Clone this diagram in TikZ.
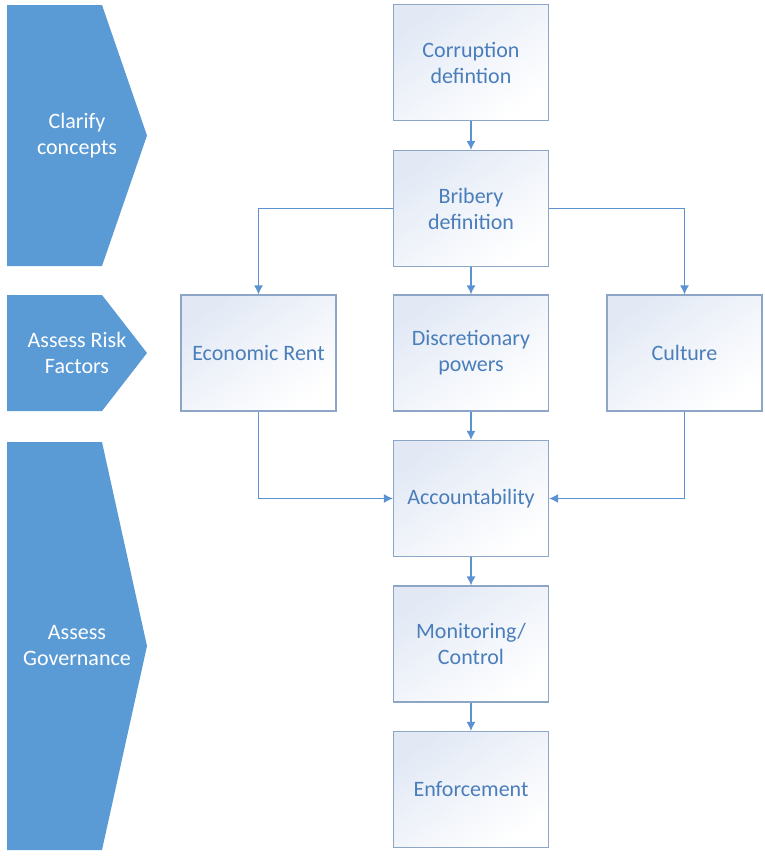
\documentclass[tikz,border=0pt]{standalone}
\usepackage{fontspec}
\setmainfont{Carlito}
\usepackage{tikz}
\usetikzlibrary{shapes,arrows,arrows.meta}
\definecolor{stageblue}{HTML}{5B9BD5}
\definecolor{boxline}{HTML}{8DA6C6}
\definecolor{boxtext}{HTML}{4A7EBB}
\definecolor{boxshade}{HTML}{E2E9F5}
\definecolor{arrowblue}{HTML}{5B93D2}
\tikzstyle{line} = [draw=arrowblue, line width=1.2pt, -{Latex[length=9pt,width=9pt]}]
\tikzstyle{stage} = [fill=stageblue]
\tikzstyle{stagetext} = [text=white, align=center, font=\fontsize{22}{26}\selectfont]
\tikzstyle{block} = [rectangle, draw=boxline, line width=1.2pt, minimum width=155pt, minimum height=116pt,
  shading=axis, top color=boxshade, middle color=white, bottom color=white, shading angle=35,
  text=boxtext, align=center, font=\fontsize{22}{26}\selectfont]

\begin{document}
\begin{tikzpicture}[x=1pt, y=-1pt]

	\useasboundingbox (0,0) rectangle (765,860);

	% stages
	\fill[stage] (7,5) -- (102,5) -- (147,135.5) -- (102,266) -- (7,266) -- cycle;
	\fill[stage] (7,295) -- (102,295) -- (147,353) -- (102,411) -- (7,411) -- cycle;
	\fill[stage] (7,442) -- (102,442) -- (147,646) -- (102,850) -- (7,850) -- cycle;
	\node[stagetext] (clarify) at (77, 135.5) {Clarify\\concepts};
	\node[stagetext] (risk) at (77, 353) {Assess Risk\\Factors};
	\node[stagetext] (gov) at (77, 646) {Assess\\Governance};

	% nodes
	\node[block] (corr) at (471, 62.5) {Corruption\\defintion};
	\node[block] (brib) at (471, 208.5) {Bribery\\definition};
	\node[block] (econ) at (258.5, 353) {Economic Rent};
	\node[block] (disc) at (471, 353) {Discretionary\\powers};
	\node[block] (cult) at (684.5, 353) {Culture};
	\node[block] (acc) at (471, 498.5) {Accountability};
	\node[block] (mon) at (471, 644) {Monitoring/\\Control};
	\node[block] (enf) at (471, 789.5) {Enforcement};

	% arrows
	\path [line] (corr) -- (brib);
	\path [line] (brib.west) -| (econ.north);
	\path [line] (brib) -- (disc);
	\path [line] (brib.east) -| (cult.north);
	\path [line] (disc) -- (acc);
	\path [line] (econ.south) |- (acc.west);
	\path [line] (cult.south) |- (acc.east);
	\path [line] (acc) -- (mon);
	\path [line] (mon) -- (enf);

\end{tikzpicture}
\end{document}
